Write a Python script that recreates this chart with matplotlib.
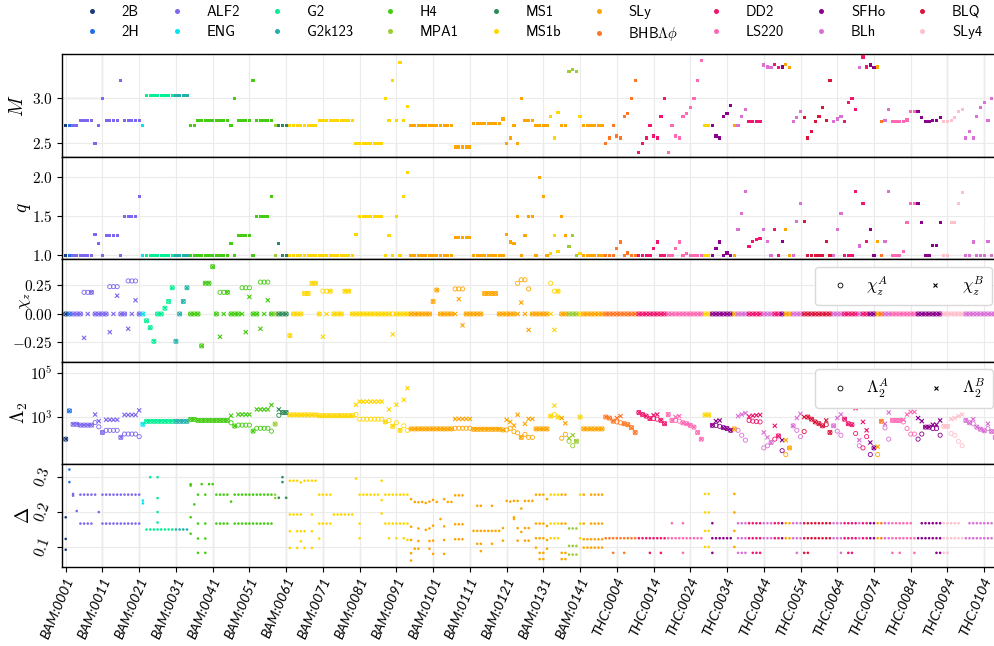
import math
import matplotlib
matplotlib.use("Agg")
import matplotlib.pyplot as plt
from matplotlib.lines import Line2D
from matplotlib.ticker import FixedLocator, FuncFormatter, NullLocator
from matplotlib.transforms import ScaledTranslation

plt.rcParams['mathtext.fontset'] = 'cm'
plt.rcParams['font.family'] = ['DejaVu Sans']

# ---------------- data ----------------
eos_colors = {
    '2B': '#1b3b7a', '2H': '#1f6fe8', 'ALF2': '#7b68ee', 'ENG': '#00e5ee',
    'G2': '#00f094', 'G2k123': '#20b2aa', 'H4': '#44cc11', 'MPA1': '#9acd32',
    'MS1': '#2e8b57', 'MS1b': '#ffd700', 'SLy': '#ffa500', 'BHBLp': '#ff7722',
    'DD2': '#f0156e', 'LS220': '#ff69b4', 'SFHo': '#8b008b', 'BLh': '#da70d6',
    'BLQ': '#dc143c', 'SLy4': '#ffc0cb'}
legend_names = ['2B', '2H', 'ALF2', 'ENG', 'G2', 'G2k123', 'H4', 'MPA1', 'MS1',
                'MS1b', 'SLy', 'BHBLp', 'DD2', 'LS220', 'SFHo', 'BLh', 'BLQ', 'SLy4']
legend_labels = ['2B', '2H', 'ALF2', 'ENG', 'G2', 'G2k123', 'H4', 'MPA1', 'MS1',
                 'MS1b', 'SLy', r'BHB$\Lambda\phi$', 'DD2', 'LS220', 'SFHo', 'BLh', 'BLQ', 'SLy4']

# EOS of consecutive simulations (name, number of simulations)
eos_runs = [('2B', 1), ('2H', 1), ('ALF2', 19), ('ENG', 1), ('G2', 8), ('G2k123', 4),
            ('H4', 23), ('MPA1', 1), ('MS1', 3), ('MS1b', 33), ('SLy', 38), ('MS1b', 3),
            ('SLy', 2), ('MPA1', 3), ('MS1b', 1), ('SLy', 6),
            ('BHBLp', 9), ('DD2', 8), ('LS220', 10), ('MS1b', 2), ('SFHo', 6), ('SLy', 1),
            ('BLh', 3), ('DD2', 4), ('BLh', 3), ('DD2', 2), ('SFHo', 1), ('SLy', 2),
            ('BLh', 3), ('BLQ', 8), ('BLh', 3), ('DD2', 4), ('BLh', 1), ('DD2', 2),
            ('SFHo', 2), ('SLy', 1), ('BHBLp', 1), ('BLh', 2), ('LS220', 7), ('SFHo', 7),
            ('SLy4', 6), ('BLh', 9)]

tick_labels = ['BAM:0001', 'BAM:0011', 'BAM:0021', 'BAM:0031', 'BAM:0041', 'BAM:0051',
               'BAM:0061', 'BAM:0071', 'BAM:0081', 'BAM:0091', 'BAM:0101', 'BAM:0111',
               'BAM:0121', 'BAM:0131', 'BAM:0141', 'THC:0004', 'THC:0014', 'THC:0024',
               'THC:0034', 'THC:0044', 'THC:0054', 'THC:0064', 'THC:0074', 'THC:0084',
               'THC:0094', 'THC:0104']

M_tot = [
    2.70, 2.70, 2.70, 2.70, 2.75, 2.75, 2.75, 2.75, 2.50, 2.70,
    3.00, 2.75, 2.75, 2.75, 2.75, 3.20, 2.75, 2.75, 2.75, 2.75,
    2.75, 2.70, 3.03, 3.03, 3.03, 3.03, 3.03, 3.03, 3.03, 3.03,
    3.03, 3.03, 3.03, 3.03, 2.70, 2.70, 2.75, 2.75, 2.75, 2.75,
    2.75, 2.75, 2.75, 2.75, 2.75, 2.70, 3.00, 2.75, 2.75, 2.75,
    2.75, 3.20, 2.75, 2.75, 2.75, 2.75, 2.75, 2.70, 2.70, 2.70,
    2.70, 2.70, 2.70, 2.70, 2.70, 2.70, 2.70, 2.70, 2.70, 2.757,
    2.757, 2.757, 2.757, 2.757, 2.757, 2.757, 2.757, 2.757, 2.757, 2.50,
    2.50, 2.50, 2.50, 2.50, 2.50, 2.50, 2.50, 3.00, 2.75, 3.20,
    2.75, 3.40, 2.75, 2.91, 2.70, 2.70, 2.70, 2.70, 2.70, 2.70,
    2.70, 2.70, 2.70, 2.70, 2.70, 2.70, 2.46, 2.46, 2.46, 2.46,
    2.46, 2.72, 2.72, 2.72, 2.72, 2.72, 2.72, 2.72, 2.72, 2.77,
    2.50, 2.56, 2.70, 2.50, 3.00, 2.75, 2.75, 2.75, 2.70, 2.70,
    2.70, 2.70, 2.80, 2.56, 2.84, 2.70, 2.70, 3.30, 3.32, 3.30,
    2.80, 2.70, 2.70, 2.70, 2.70, 2.70, 2.70, 2.50, 2.56, 2.70,
    2.58, 2.56, 2.80, 2.83, 3.00, 3.20, 2.40, 2.50, 2.56, 2.70,
    2.58, 2.56, 2.80, 3.00, 2.40, 2.70, 2.58, 2.56, 2.80, 2.83,
    2.90, 3.00, 3.20, 3.42, 2.70, 2.70, 2.70, 2.58, 2.56, 2.80,
    2.83, 2.92, 2.70, 2.70, 2.80, 2.88, 2.74, 2.74, 2.74, 2.74,
    3.37, 3.35, 3.34, 3.38, 3.34, 3.35, 3.38, 3.34, 2.74, 2.79,
    2.85, 2.79, 2.56, 2.63, 2.74, 2.80, 2.90, 2.75, 3.20, 2.74,
    2.77, 2.80, 2.74, 2.95, 3.00, 2.88, 3.34, 3.46, 3.35, 3.37,
    3.34, 3.35, 2.74, 2.75, 2.88, 2.74, 2.74, 2.74, 2.74, 2.76,
    2.85, 2.85, 2.85, 2.79, 2.74, 2.74, 2.75, 2.75, 2.79, 2.74,
    2.74, 2.75, 2.79, 2.85, 2.88, 2.56, 2.63, 2.56, 2.80, 2.90,
    2.95, 2.75, 3.00, 3.20]

q_ratio = [
    1.0, 1.0, 1.0, 1.0, 1.0, 1.0, 1.0, 1.0, 1.27, 1.15,
    1.0, 1.25, 1.25, 1.25, 1.25, 1.0, 1.5, 1.5, 1.5, 1.5,
    1.75, 1.0, 1.0, 1.0, 1.0, 1.0, 1.0, 1.0, 1.0, 1.0,
    1.0, 1.0, 1.0, 1.0, 1.0, 1.0, 1.0, 1.0, 1.0, 1.0,
    1.0, 1.0, 1.0, 1.0, 1.0, 1.15, 1.0, 1.25, 1.25, 1.25,
    1.25, 1.0, 1.5, 1.5, 1.5, 1.5, 1.75, 1.0, 1.15, 1.0,
    1.0, 1.0, 1.0, 1.0, 1.0, 1.0, 1.0, 1.0, 1.0, 1.0,
    1.0, 1.0, 1.0, 1.0, 1.0, 1.0, 1.0, 1.0, 1.0, 1.27,
    1.5, 1.5, 1.5, 1.5, 1.5, 1.5, 1.5, 1.0, 1.25, 1.0,
    1.5, 1.0, 1.75, 2.06, 1.0, 1.0, 1.0, 1.0, 1.0, 1.0,
    1.0, 1.0, 1.0, 1.0, 1.0, 1.0, 1.225, 1.225, 1.225, 1.225,
    1.225, 1.0, 1.0, 1.0, 1.0, 1.0, 1.0, 1.0, 1.0, 1.0,
    1.27, 1.17, 1.15, 1.5, 1.0, 1.25, 1.5, 1.5, 1.0, 2.0,
    1.75, 1.0, 1.02, 1.25, 1.05, 1.5, 1.25, 1.11, 1.25, 1.0,
    1.02, 1.0, 1.0, 1.0, 1.0, 1.0, 1.0, 1.0, 1.0, 1.0,
    1.09, 1.17, 1.0, 1.03, 1.0, 1.0, 1.0, 1.0, 1.0, 1.0,
    1.09, 1.17, 1.0, 1.0, 1.0, 1.0, 1.09, 1.17, 1.0, 1.02,
    1.0, 1.0, 1.0, 1.0, 1.0, 1.0, 1.0, 1.09, 1.17, 1.0,
    1.03, 1.0, 1.0, 1.33, 1.54, 1.82, 1.11, 1.18, 1.20, 1.22,
    1.33, 1.18, 1.0, 1.33, 1.0, 1.18, 1.33, 1.0, 1.0, 1.43,
    1.66, 1.43, 1.0, 1.0, 1.0, 1.0, 1.0, 1.18, 1.0, 1.0,
    1.33, 1.54, 1.0, 1.0, 1.0, 1.82, 1.12, 1.66, 1.18, 1.33,
    1.0, 1.18, 1.0, 1.18, 1.82, 1.0, 1.0, 1.0, 1.05, 1.42,
    1.66, 1.66, 1.66, 1.42, 1.0, 1.0, 1.13, 1.13, 1.42, 1.0,
    1.0, 1.42, 1.42, 1.66, 1.80, 1.0, 1.0, 1.17, 1.0, 1.0,
    1.0, 1.18, 1.0, 1.0]

chi_A = [
    0, 0, 0, 0, 0, 0.19, 0.19, 0.19, 0, 0,
    0, 0, 0.24, 0.24, 0.24, 0, 0, 0.29, 0.29, 0.29,
    0, 0, -0.06, -0.12, -0.24, 0, 0, 0.05, 0.11, 0.23,
    -0.24, 0, 0.11, 0.23, 0, 0, 0, -0.28, 0.27, 0.27,
    0.415, 0, 0.19, 0.19, 0.19, 0, 0, 0, 0.23, 0.23,
    0.23, 0, 0, 0.28, 0.28, 0.28, 0, 0, 0, 0,
    0, -0.19, 0, 0, 0, 0.18, 0.18, 0.27, 0.27, 0,
    0.2, 0.2, 0.2, 0, 0, 0, 0.2, 0.2, 0, 0,
    0, 0, 0, 0, 0, 0, 0, 0, 0, 0,
    0, 0, 0, 0, 0, 0, 0, 0, 0, 0,
    0.11, 0.21, 0, 0, 0, 0, 0.22, 0.22, 0.22, 0,
    0, 0, 0, 0, 0.18, 0.18, 0.18, 0.18, 0, 0,
    0, 0, 0, 0.27, 0.3, 0.3, 0.22, 0, 0, 0,
    0, 0, 0.27, 0.2, 0.2, 0, 0, 0, 0, 0,
    0, 0, 0, 0, 0, 0, 0] + [0] * 107

chi_B = [
    0, 0, 0, 0, 0, -0.21, 0, 0.19, 0, 0,
    0, 0, -0.16, 0, 0.16, 0, 0, -0.13, 0, 0.12,
    0, 0, -0.06, -0.12, -0.24, 0, 0, 0.05, 0.11, 0.23,
    -0.24, 0, 0.11, 0.23, 0, 0, 0, -0.28, 0.27, 0.27,
    0.415, 0, -0.2, 0, 0.19, 0, 0, 0, 0, -0.16,
    0.15, 0, 0, -0.13, 0, 0.12, 0, 0, 0, 0,
    0, -0.19, 0, 0, 0, 0.18, 0.18, 0.27, 0.27, 0,
    -0.2, 0, 0.2, 0, 0, 0, 0.2, 0.2, 0, 0,
    0, 0, 0, 0, 0, 0, 0, 0, 0, -0.18,
    0, 0, 0, 0, 0, 0, 0, 0, 0, 0,
    0.11, 0.21, 0, 0, 0, 0, 0, 0.13, -0.1, 0,
    0, 0, 0, 0, 0.18, 0.18, 0.18, 0.18, 0, 0,
    0, 0, 0, 0, 0.1, 0, -0.14, 0, 0, 0,
    0, 0, 0, -0.14, 0.2, 0, 0, 0, 0, 0,
    0, 0, 0, 0, 0, 0, 0] + [0] * 107

lam_A = [
    100, 1900, 470, 470, 430, 430, 430, 430, 560, 360,
    200, 250, 250, 250, 250, 120, 170, 170, 170, 170,
    130, 470, 640, 640, 640, 640, 640, 640, 640, 640,
    640, 640, 640, 640, 780, 780, 700, 700, 700, 700,
    700, 700, 700, 700, 700, 550, 390, 430, 430, 430,
    430, 230, 310, 310, 310, 310, 230, 480, 1200, 1600,
    1600, 1250, 1250, 1250, 1250, 1250, 1250, 1250, 1250, 1150,
    1150, 1150, 1150, 1150, 1150, 1150, 1150, 1150, 1150, 1300,
    800, 800, 800, 800, 800, 800, 800, 600, 700, 380,
    550, 250, 400, 250, 290, 290, 290, 290, 290, 290,
    290, 290, 290, 290, 290, 290, 310, 310, 310, 310,
    310, 280, 280, 280, 280, 280, 280, 280, 280, 260,
    260, 310, 220, 190, 120, 165, 120, 120, 290, 290,
    290, 290, 1100, 1300, 1000, 110, 165, 80, 50, 80,
    1000, 290, 290, 290, 290, 290, 290, 1000, 900, 650,
    600, 550, 500, 450, 330, 200, 1600, 1300, 1100, 850,
    850, 800, 700, 500, 1300, 700, 700, 650, 550, 500,
    420, 350, 200, 100, 1250, 1250, 420, 420, 380, 330,
    300, 250, 290, 250, 150, 90, 700, 650, 620, 600,
    40, 50, 70, 100, 140, 30, 20, 40, 400, 250,
    130, 220, 1000, 800, 600, 500, 400, 450, 200, 400,
    230, 150, 800, 500, 450, 180, 50, 40, 130, 20,
    40, 20, 640, 320, 100, 700, 700, 700, 600, 300,
    170, 170, 100, 170, 350, 350, 300, 300, 150, 380,
    380, 180, 150, 80, 50, 700, 550, 500, 350, 280,
    240, 300, 220, 120]

lam_B = [
    100, 1900, 470, 470, 430, 430, 430, 430, 1300, 650,
    200, 750, 750, 750, 750, 120, 1250, 1250, 1250, 1250,
    2000, 470, 640, 640, 640, 640, 640, 640, 640, 640,
    640, 640, 640, 640, 780, 780, 700, 700, 700, 700,
    700, 700, 700, 700, 700, 1150, 390, 1300, 1300, 1300,
    1300, 230, 2200, 2200, 2200, 2200, 3500, 480, 2200, 1600,
    1600, 1250, 1250, 1250, 1250, 1250, 1250, 1250, 1250, 1150,
    1150, 1150, 1150, 1150, 1150, 1150, 1150, 1150, 1150, 3600,
    5000, 5000, 5000, 5000, 5000, 5000, 5000, 600, 2200, 380,
    3600, 250, 6000, 20000, 290, 290, 290, 290, 290, 290,
    290, 290, 290, 290, 290, 290, 820, 820, 820, 820,
    820, 280, 280, 280, 280, 280, 280, 280, 280, 260,
    750, 600, 410, 1270, 120, 490, 820, 820, 290, 290,
    290, 290, 1100, 3300, 1000, 900, 520, 110, 150, 80,
    1000, 290, 290, 290, 290, 290, 290, 1000, 900, 650,
    900, 1100, 500, 450, 330, 200, 1600, 1300, 1100, 850,
    1200, 1300, 700, 500, 1300, 700, 1000, 1100, 550, 500,
    420, 350, 200, 100, 1250, 1250, 420, 650, 700, 330,
    300, 250, 290, 1100, 1300, 1500, 1050, 1150, 1200, 1250,
    200, 120, 70, 400, 140, 90, 90, 40, 400, 900,
    1400, 1000, 1000, 800, 600, 500, 400, 700, 200, 400,
    900, 1300, 800, 500, 450, 2500, 90, 600, 250, 70,
    40, 45, 640, 500, 1600, 700, 700, 700, 750, 1300,
    1700, 1700, 900, 650, 350, 350, 450, 450, 700, 380,
    380, 800, 900, 1100, 1300, 700, 550, 800, 350, 280,
    240, 500, 220, 120]

D_a = [0.25, 0.167]
D_t = [0.168, 0.125]
delta = [
    [0.185, 0.123, 0.092], [0.322, 0.286], [0.252, 0.247], [0.203],
    D_a, D_a, D_a, D_a, [0.25], [0.20],
    D_a, D_a, D_a, D_a, D_a, D_a, D_a, D_a, D_a, D_a, D_a,
    [0.233, 0.225],
    [0.15], [0.30, 0.15], [0.15], [0.30, 0.24, 0.20, 0.17, 0.15], [0.15], [0.15],
    [0.15], [0.15], [0.15], [0.15], [0.15], [0.15],
    [0.28, 0.276, 0.185, 0.138], [0.222], [0.25, 0.167, 0.124, 0.083], [0.28],
    [0.25, 0.167, 0.124, 0.083], [0.28], [0.28],
    D_a, D_a, D_a, D_a, [0.23],
    D_a, D_a, D_a, D_a, D_a, D_a, D_a, D_a, D_a, D_a, D_a,
    [0.25, 0.24], [0.241], [0.30, 0.286], [0.241],
    [0.29, 0.193, 0.145, 0.097], [0.29, 0.193], [0.29, 0.193, 0.145, 0.097],
    [0.285, 0.193, 0.145, 0.116], [0.29, 0.145, 0.097], [0.29],
    [0.29, 0.193, 0.145, 0.097], [0.29],
    [0.25, 0.167, 0.124], D_a, D_a, D_a,
    [0.193], [0.193], [0.193], [0.193], [0.193], [0.193],
    [0.296], [0.25, 0.167, 0.125], [0.25], [0.25], [0.25], [0.25], [0.25],
    [0.29, 0.234, 0.196],
    D_a, [0.25, 0.167, 0.125], D_a, [0.25, 0.167, 0.125], D_a, [0.25, 0.167, 0.125],
    [0.25, 0.167, 0.12],
    [0.237, 0.158, 0.12, 0.082, 0.061], [0.229, 0.095], [0.228, 0.153, 0.117, 0.095],
    [0.229], [0.226, 0.149], [0.23, 0.153, 0.117, 0.095], [0.235, 0.161, 0.118, 0.08],
    [0.229], [0.18], [0.237, 0.159, 0.12, 0.08], [0.229], [0.229],
    [0.248, 0.165, 0.122], [0.248, 0.165, 0.122], [0.248, 0.165, 0.122], [], [],
    [0.146], [0.218, 0.146, 0.109], [0.218, 0.146, 0.109, 0.088], [0.146], [0.146],
    [0.218, 0.146, 0.109], [0.146], [0.146],
    [0.154, 0.118], [0.232], [0.23], [0.232, 0.185, 0.18], [0.232, 0.154, 0.118],
    [0.21, 0.143], [0.232, 0.154, 0.118], [0.232, 0.154, 0.118], [0.232],
    [0.25, 0.167, 0.125, 0.098], [0.25, 0.167, 0.125, 0.083, 0.065],
    [0.25, 0.167, 0.125, 0.083, 0.065], [0.237, 0.16, 0.12, 0.095],
    [0.25, 0.167, 0.125], [0.25, 0.167, 0.125], [0.25, 0.167, 0.125],
    [0.25, 0.167, 0.083, 0.065], [0.25, 0.167, 0.083, 0.065],
    [0.153, 0.103, 0.078], [0.153, 0.103, 0.078], [0.153, 0.103, 0.078],
    [0.25, 0.167, 0.125],
    [0.25, 0.167, 0.122, 0.098], [0.122, 0.098], [0.25, 0.167, 0.122, 0.098],
    [0.25, 0.167, 0.122, 0.098], [0.25, 0.167, 0.122, 0.098], [0.25, 0.167, 0.122, 0.098],
    # THC
    [0.125], [0.125], [0.125, 0.083], [0.125], [0.125], [0.125, 0.083], [0.125],
    [0.125], [0.125], [0.125], [0.125], [0.125], [0.125, 0.083], [0.125], [0.125],
    [0.125, 0.083], [0.125], [0.125], D_t, [0.125], [0.125], [0.168, 0.125, 0.083],
    [0.125], [0.125], [0.125], [0.125], [0.125],
    [0.252, 0.199, 0.146, 0.1], [0.252, 0.199, 0.146, 0.1],
    [0.168, 0.125, 0.083], [0.125], [0.125], [0.125], [0.125], [0.125],
    [0.252, 0.199, 0.146, 0.1],
    [0.168, 0.125, 0.083], [0.168, 0.125, 0.083], [0.168, 0.125, 0.083], D_t,
    [0.168, 0.125, 0.083], [0.168, 0.125, 0.083], [0.168, 0.125, 0.083],
    D_t, D_t, D_t, D_t, D_t, D_t, D_t, D_t, D_t,
    [0.168, 0.125, 0.083], D_t, [0.168, 0.125, 0.083], [0.168, 0.125, 0.083],
    D_t, D_t, D_t, D_t, D_t, D_t, D_t, D_t,
    [0.168, 0.125, 0.083], D_t, [0.168, 0.125, 0.083], [0.168, 0.125, 0.083],
    D_t, D_t, D_t, D_t, D_t, D_t, D_t, D_t, D_t, D_t,
    [0.168, 0.125, 0.083], D_t, [0.168, 0.125, 0.083], D_t, D_t, D_t,
    [0.125, 0.083], [0.125], D_t, D_t, D_t, D_t,
    [0.168, 0.125, 0.083], [0.168, 0.125, 0.083], [0.168, 0.125, 0.083],
    [0.168, 0.125, 0.083], D_t, D_t, D_t, [0.125], [0.125],
    D_t, D_t, D_t, D_t, D_t, D_t, D_t, D_t]

# ---------------- expand EOS per simulation ----------------
eos_of_sim = []
for name, n in eos_runs:
    eos_of_sim += [name] * n
n_sim = len(eos_of_sim)
xs = list(range(n_sim))
cols = [eos_colors[e] for e in eos_of_sim]

# ---------------- figure ----------------
W_PX, H_PX = 995, 646
fig = plt.figure(figsize=(W_PX / 100, H_PX / 100), dpi=100)
left_px, width_px, panel_px, top_px = 62.3, 945.0, 102.5, 54.3
axes = []
for k in range(5):
    t = top_px + k * panel_px
    ax = fig.add_axes([left_px / W_PX, 1 - (t + panel_px) / H_PX,
                       width_px / W_PX, panel_px / H_PX])
    axes.append(ax)

x_left = -0.93
x_right = x_left + width_px / 3.674
grid_kw = dict(color='#ebebeb', lw=0.8, zorder=0)

for ax in axes:
    ax.set_xlim(x_left, x_right)
    ax.set_xticks(range(0, 251, 10))
    ax.grid(True, **grid_kw)
    ax.set_axisbelow(True)
    ax.spines['right'].set_visible(False)
    for s in ['left', 'top', 'bottom']:
        ax.spines[s].set_linewidth(1.0)
    ax.tick_params(axis='both', direction='out', length=3.5, width=0.8,
                   labelsize=11, colors='black')
    ax.tick_params(axis='x', labelbottom=False)


def mfmt(fmt):
    return FuncFormatter(lambda v, p: '$' + (fmt % v) + '$')


mk = dict(marker='s', s=5.5, linewidths=0, zorder=3)

# M panel
ax = axes[0]
ax.scatter(xs, M_tot, c=cols, **mk)
ax.set_ylim(2.35, 3.49)
ax.yaxis.set_major_locator(FixedLocator([2.5, 3.0]))
ax.yaxis.set_major_formatter(mfmt('%.1f'))
ax.set_ylabel(r'$M$', fontsize=14)

# q panel
ax = axes[1]
ax.scatter(xs, q_ratio, c=cols, **mk)
ax.set_ylim(0.95, 2.26)
ax.yaxis.set_major_locator(FixedLocator([1.0, 1.5, 2.0]))
ax.yaxis.set_major_formatter(mfmt('%.1f'))
ax.set_ylabel(r'$q$', fontsize=14)

leg_kw = dict(ncol=2, loc='upper left', bbox_to_anchor=(0.797, 0.925), borderaxespad=0,
              fontsize=12, handlelength=2.0, handletextpad=0.6, columnspacing=1.8,
              frameon=True, edgecolor='#d9d9d9', fancybox=True, framealpha=1.0,
              borderpad=0.45)
hA = Line2D([], [], ls='none', marker='o', mfc='none', mec='black', ms=3.5, mew=0.6)
hB = Line2D([], [], ls='none', marker='x', color='black', ms=3.5, mew=0.8)

# chi panel
ax = axes[2]
ax.scatter(xs, chi_A, facecolors='none', edgecolors=cols, marker='o', s=9,
           linewidths=0.6, zorder=3)
ax.scatter(xs, chi_B, c=cols, marker='x', s=9, linewidths=0.8, zorder=3)
ax.set_ylim(-0.42, 0.48)
ax.yaxis.set_major_locator(FixedLocator([-0.25, 0.0, 0.25]))
ax.yaxis.set_major_formatter(mfmt('%.2f'))
ax.set_ylabel(r'$\chi_z$', fontsize=12)
ax.legend([hA, hB], [r'$\chi_z^A$', r'$\chi_z^B$'], **leg_kw)

# Lambda panel
ax = axes[3]
ax.set_yscale('log')
ax.scatter(xs, lam_A, facecolors='none', edgecolors=cols, marker='o', s=9,
           linewidths=0.6, zorder=3)
ax.scatter(xs, lam_B, c=cols, marker='x', s=9, linewidths=0.8, zorder=3)
ax.set_ylim(10 ** 0.86, 10 ** 5.5)
ax.yaxis.set_major_locator(FixedLocator([1e3, 1e5]))
ax.yaxis.set_minor_locator(NullLocator())
ax.yaxis.set_major_formatter(FuncFormatter(lambda v, p: r'$10^{%d}$' % round(math.log10(v))))
ax.set_ylabel(r'$\Lambda_2$', fontsize=14)
ax.legend([hA, hB], [r'$\Lambda_2^A$', r'$\Lambda_2^B$'], **leg_kw)

# Delta panel
ax = axes[4]
dx, dv, dc = [], [], []
for i, vals in enumerate(delta):
    for v in vals:
        dx.append(i)
        dv.append(v)
        dc.append(cols[i])
ax.scatter(dx, dv, c=dc, marker='o', s=3.5, linewidths=0, zorder=3)
ax.set_ylim(0.043, 0.337)
ax.yaxis.set_major_locator(FixedLocator([0.1, 0.2, 0.3]))
ax.yaxis.set_major_formatter(mfmt('%.1f'))
ax.set_ylabel(r'$\Delta$', fontsize=14)
for lab in ax.get_yticklabels():
    lab.set_rotation(70)
    lab.set_va('center')
ax.tick_params(axis='x', labelbottom=True, pad=3)
ax.set_xticklabels(tick_labels, rotation=67, ha='center', va='top',
                   fontsize=10.1, fontstyle='italic', family='Lato')
shift = ScaledTranslation(-8 / 100, 0, fig.dpi_scale_trans)
for lab in ax.get_xticklabels():
    lab.set_transform(lab.get_transform() + shift)

# slightly darker grid segments seen in the reference
dark = dict(color='#cccccc', lw=0.9, zorder=0.5)
axM, axq, axc, axL, axD = axes
axM.plot([x_left, 10], [3.0, 3.0], **dark)
axM.plot([10, 10], [3.0, 3.49], **dark)
for xv in [240, 250]:
    axM.plot([xv, xv], [2.35, 3.49], **dark)
for xv in [80, 90, 110, 120, 130, 140, 150, 160, 170, 180, 200, 210, 230]:
    axM.plot([xv, xv], [2.35, 2.5], **dark)
axM.plot([110, 120], [2.5, 2.5], **dark)
axq.plot([70, 80], [1.5, 1.5], **dark)
for xv in [80, 90]:
    axq.plot([xv, xv], [0.95, 1.5], **dark)
for xv in range(10, 71, 10):
    axc.plot([xv, xv], [-0.42, -0.25], **dark)
    axD.plot([xv, xv], [0.043, 0.337], **dark)
for xv in range(80, 251, 10):
    axD.plot([xv, xv], [0.043, 0.1], **dark)

# y-label positions (axes coordinates)
for ax, xpx, yfrac in zip(axes, [27, 33, 33, 30, 33], [0.5, 0.5, 0.59, 0.5, 0.5]):
    ax.yaxis.set_label_coords((xpx - left_px) / width_px, yfrac)

# top legend
handles = [Line2D([], [], ls='none', marker='o', ms=3.6, mew=0, color=eos_colors[n])
           for n in legend_names]
fig.legend(handles, legend_labels, loc='upper left', bbox_to_anchor=(71.5 / W_PX, 1.0015),
           ncol=9, frameon=False, prop={'family': 'cmss10', 'size': 10.5},
           handletextpad=1.05, columnspacing=1.54, handlelength=2.0, labelspacing=0.42,
           borderaxespad=0)

fig.savefig('out.png', dpi=100)
